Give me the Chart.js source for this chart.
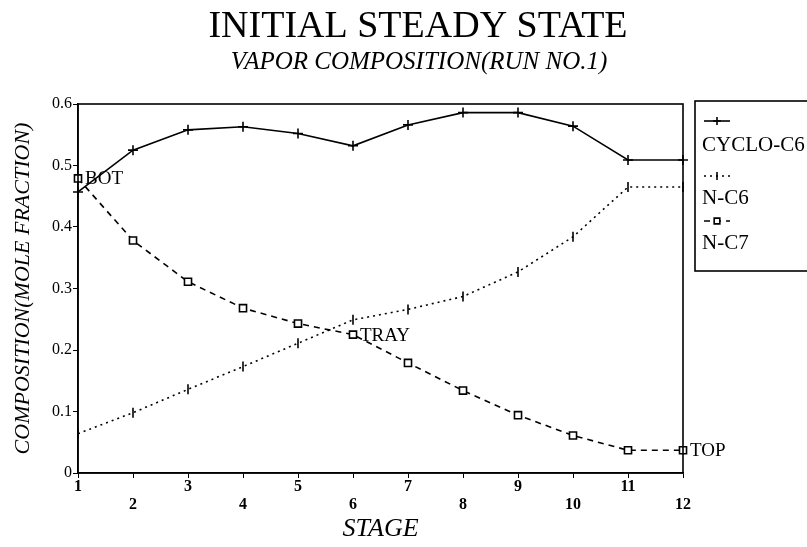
<!DOCTYPE html>
<html>
<head>
<meta charset="utf-8">
<script src="https://cdn.jsdelivr.net/npm/chart.js@4/dist/chart.umd.min.js"></script>
<style>
  html, body { margin: 0; padding: 0; background: #fff; }
  #wrap { width: 807px; height: 547px; position: relative; }
</style>
</head>
<body>
<div id="wrap"><canvas id="chart"></canvas></div>
<script>
// stage numbers along the column
const stages = [1, 2, 3, 4, 5, 6, 7, 8, 9, 10, 11, 12];

// vapor mole fractions
const cycloC6 = [0.457, 0.525, 0.558, 0.563, 0.552, 0.532, 0.566, 0.586, 0.586, 0.564, 0.509, 0.509];
const nC6 = [0.064, 0.098, 0.136, 0.173, 0.211, 0.249, 0.266, 0.287, 0.327, 0.384, 0.465, 0.465];
const nC7 = [0.479, 0.378, 0.311, 0.268, 0.243, 0.225, 0.179, 0.134, 0.094, 0.061, 0.037, 0.037];

const yTicks = [0, 0.1, 0.2, 0.3, 0.4, 0.5, 0.6];
const seriesNames = ['CYCLO-C6', 'N-C6', 'N-C7'];

// labels placed beside the N-C7 points
const noteStages = [1, 6, 12];
const noteTexts = ['BOT', 'TRAY', 'TOP'];

const titleText = 'INITIAL STEADY STATE';
const subtitleText = 'VAPOR COMPOSITION(RUN NO.1)';

const SERIF = '"Liberation Serif", "DejaVu Serif", serif';

function toPoints(values) {
  return stages.map((s, i) => ({ x: s, y: values[i] }));
}

const seriesStyles = [
  { dash: [], pointStyle: 'cross', radius: 5, rotation: 0 },
  { dash: [2, 4], pointStyle: 'line', radius: 5, rotation: 90 },
  { dash: [6, 5], pointStyle: 'rect', radius: 5, rotation: 0 }
];

const datasets = [cycloC6, nC6, nC7].map((vals, i) => ({
  label: seriesNames[i],
  data: toPoints(vals),
  borderColor: '#000',
  backgroundColor: '#fff',
  borderWidth: 1.6,
  borderDash: seriesStyles[i].dash,
  pointStyle: seriesStyles[i].pointStyle,
  pointRadius: seriesStyles[i].radius,
  pointRotation: seriesStyles[i].rotation,
  pointBorderColor: '#000',
  pointBackgroundColor: '#fff',
  pointBorderWidth: 1.6,
  tension: 0,
  clip: false
}));

// titles, frame, point notes and the boxed legend
const decorations = {
  id: 'decorations',
  beforeDraw(chart) {
    const ctx = chart.ctx;
    ctx.save();
    ctx.fillStyle = '#fff';
    ctx.fillRect(0, 0, chart.width, chart.height);
    ctx.restore();
  },
  afterDraw(chart) {
    const ctx = chart.ctx;
    const area = chart.chartArea;
    ctx.save();

    // frame around the plot
    ctx.strokeStyle = '#000';
    ctx.lineWidth = 1.6;
    ctx.setLineDash([]);
    ctx.strokeRect(area.left, area.top, area.right - area.left, area.bottom - area.top);

    // titles
    ctx.fillStyle = '#000';
    ctx.textAlign = 'center';
    ctx.textBaseline = 'middle';
    ctx.font = '38px ' + SERIF;
    ctx.fillText(titleText, 418, 27);
    ctx.font = 'italic 25px ' + SERIF;
    ctx.fillText(subtitleText, 419, 62);

    // notes beside N-C7 points
    const meta = chart.getDatasetMeta(2);
    ctx.font = '19px ' + SERIF;
    ctx.textAlign = 'left';
    noteStages.forEach((s, i) => {
      const pt = meta.data[stages.indexOf(s)];
      ctx.fillText(noteTexts[i], pt.x + 7, pt.y + 1);
    });

    // legend box
    ctx.lineWidth = 1.6;
    ctx.strokeRect(695, 101, 130, 170);
    const rows = [121, 176, 221];
    const labelRows = [145, 198, 243];
    seriesNames.forEach((name, i) => {
      const st = seriesStyles[i];
      const y = rows[i];
      ctx.setLineDash(st.dash);
      ctx.beginPath();
      ctx.moveTo(704, y);
      ctx.lineTo(730, y);
      ctx.stroke();
      ctx.setLineDash([]);
      ctx.fillStyle = '#fff';
      Chart.helpers.drawPoint(ctx, {
        pointStyle: st.pointStyle,
        radius: 4,
        rotation: st.rotation,
        borderWidth: 1.6
      }, 717, y);
      ctx.fillStyle = '#000';
      ctx.font = '21px ' + SERIF;
      ctx.textAlign = 'left';
      ctx.fillText(name, 702, labelRows[i]);
    });
    ctx.restore();
  }
};

new Chart(document.getElementById('chart'), {
  type: 'line',
  data: { datasets },
  options: {
    responsive: true,
    maintainAspectRatio: false,
    animation: false,
    layout: { padding: { left: 0, top: 104, right: 124, bottom: 0 } },
    plugins: {
      legend: { display: false },
      tooltip: { enabled: false }
    },
    scales: {
      x: {
        type: 'linear',
        min: 1,
        max: 12,
        afterFit: scale => { scale.height = 74; },
        afterBuildTicks: scale => { scale.ticks = stages.map(v => ({ value: v })); },
        grid: { drawOnChartArea: false, drawTicks: true, tickLength: 5, color: '#000' },
        border: { display: true, color: '#000', width: 1.6 },
        ticks: {
          autoSkip: false,
          maxRotation: 0,
          padding: 0,
          color: '#000',
          font: { family: SERIF, size: 16, weight: 'bold', lineHeight: 1.1 },
          callback: v => (v % 2 === 1 ? String(v) : ['', String(v)])
        },
        title: {
          display: true,
          text: 'STAGE',
          color: '#000',
          font: { family: SERIF, size: 26, style: 'italic', lineHeight: 1.2 },
          padding: { top: 0, bottom: 2 }
        }
      },
      y: {
        min: 0,
        max: 0.6,
        afterFit: scale => { scale.width = 78; },
        afterBuildTicks: scale => { scale.ticks = yTicks.map(v => ({ value: v })); },
        grid: { drawOnChartArea: false, drawTicks: true, tickLength: 5, color: '#000' },
        border: { display: true, color: '#000', width: 1.6 },
        ticks: {
          padding: 1,
          color: '#000',
          font: { family: SERIF, size: 16 },
          callback: v => (v === 0 ? '0' : v.toFixed(1))
        },
        title: {
          display: true,
          text: 'COMPOSITION(MOLE FRACTION)',
          color: '#000',
          font: { family: SERIF, size: 22, style: 'italic', lineHeight: 1.2 },
          padding: { top: 10, bottom: 0 }
        }
      }
    }
  },
  plugins: [decorations]
});
</script>
</body>
</html>
